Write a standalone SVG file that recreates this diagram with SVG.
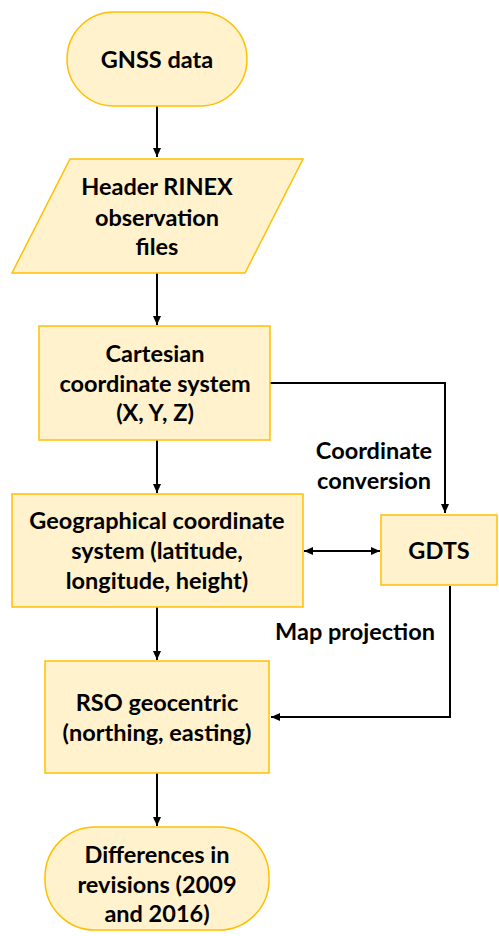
<svg xmlns="http://www.w3.org/2000/svg" width="499" height="936" viewBox="0 0 499 936">
<defs>
<marker id="ah" markerWidth="10" markerHeight="10" refX="9" refY="5" orient="auto-start-reverse" markerUnits="userSpaceOnUse">
<path d="M0,1 L9,5 L0,9 Z" fill="#000"/>
</marker>
<style>
.n{fill:#FFF2CC;stroke:#FFC000;stroke-width:1.5}
.t{font-family:Lato,"Liberation Sans",sans-serif;font-weight:bold;font-size:23.5px;fill:#000;text-anchor:middle}
.c{fill:none;stroke:#000;stroke-width:2}
</style>
</defs>
<rect width="499" height="936" fill="#fff"/>
<g id="connectors">
<line class="c" x1="157" y1="106" x2="157" y2="157" marker-end="url(#ah)"/>
<line class="c" x1="157" y1="273" x2="157" y2="325" marker-end="url(#ah)"/>
<line class="c" x1="157" y1="440" x2="157" y2="493" marker-end="url(#ah)"/>
<line class="c" x1="157" y1="607" x2="157" y2="660" marker-end="url(#ah)"/>
<line class="c" x1="157" y1="773" x2="157" y2="826" marker-end="url(#ah)"/>
<polyline class="c" points="270,383 445,383 445,513" marker-end="url(#ah)"/>
<line class="c" x1="304" y1="551" x2="380" y2="551" marker-start="url(#ah)" marker-end="url(#ah)"/>
<polyline class="c" points="450,586 450,717 271,717" marker-end="url(#ah)"/>
<text class="t" x="374" y="459">Coordinate</text>
<text class="t" x="374" y="489">conversion</text>
<text class="t" x="355" y="640">Map projection</text>
</g>
<g id="gnss">
<rect class="n" x="67" y="12" width="180" height="94" rx="47"/>
<text class="t" x="157" y="68">GNSS data</text>
</g>
<g id="rinex">
<polygon class="n" points="70,159 303,159 245,273 12,273"/>
<text class="t" x="157" y="195">Header RINEX</text>
<text class="t" x="157" y="226">observation</text>
<text class="t" x="157" y="255">files</text>
</g>
<g id="cartesian">
<rect class="n" x="39" y="326" width="231" height="114"/>
<text class="t" x="155" y="362">Cartesian</text>
<text class="t" x="155" y="392">coordinate system</text>
<text class="t" x="155" y="421">(X, Y, Z)</text>
</g>
<g id="geographical">
<rect class="n" x="12" y="494" width="291" height="113"/>
<text class="t" x="157" y="529">Geographical coordinate</text>
<text class="t" x="157" y="559">system (latitude,</text>
<text class="t" x="157" y="589">longitude, height)</text>
</g>
<g id="gdts">
<rect class="n" x="381" y="515" width="116" height="70"/>
<text class="t" x="439" y="559">GDTS</text>
</g>
<g id="rso">
<rect class="n" x="45" y="661" width="224" height="112"/>
<text class="t" x="157" y="711">RSO geocentric</text>
<text class="t" x="157" y="741">(northing, easting)</text>
</g>
<g id="differences">
<rect class="n" x="45" y="827" width="224" height="103" rx="50"/>
<text class="t" x="157" y="863">Differences in</text>
<text class="t" x="157" y="893">revisions (2009</text>
<text class="t" x="157" y="922">and 2016)</text>
</g>
</svg>
